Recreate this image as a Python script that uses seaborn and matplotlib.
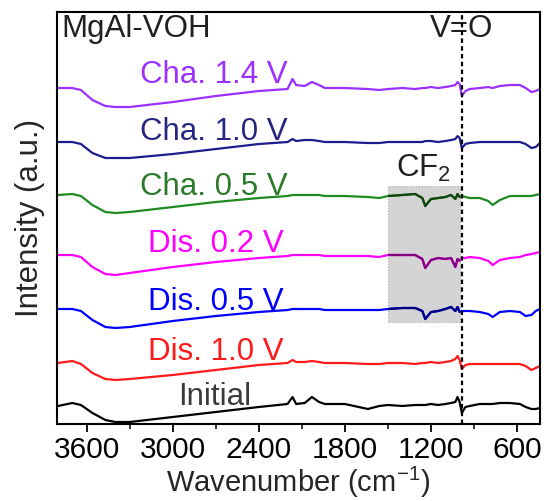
import numpy as np
import pandas as pd
import matplotlib
matplotlib.use("Agg")
import matplotlib.pyplot as plt
import matplotlib.patches as mpatches
from matplotlib.ticker import MultipleLocator
import seaborn as sns

# wavenumber grid (cm-1) shared by all spectra
wavenumber = [3800, 3700, 3640, 3560, 3470, 3400, 3300, 3000, 2700, 2400,
              2200, 2165, 2140, 2080, 2030, 1980, 1940, 1800, 1640, 1560,
              1500, 1400, 1310, 1260, 1240, 1200, 1150, 1100, 1060, 1030,
              1015, 1000, 985, 960, 930, 860, 800, 770, 720, 650,
              580, 540, 500, 470, 440]

# relative intensities (a.u., baseline = 0)
cha_14 = [0, 0, -0.02, -0.12, -0.18, -0.19, -0.19, -0.14, -0.08, -0.03,
          -0.01, 0.09, 0.03, 0.02, 0.06, 0.03, 0.0, 0.0, -0.01, -0.02,
          -0.01, 0.0, -0.01, 0.0, 0.0, 0.01, 0.0, 0.01, 0.02, 0.03,
          0.06, 0.04, -0.08, -0.03, -0.01, 0.0, 0.01, 0.0, 0.02, 0.03,
          0.03, 0.0, -0.04, -0.03, -0.01]
cha_10 = [0, 0, -0.02, -0.11, -0.16, -0.16, -0.16, -0.12, -0.07, -0.02,
          0.0, 0.03, 0.01, 0.02, 0.02, 0.01, 0.0, 0.0, -0.01, -0.01,
          0.0, 0.0, 0.0, 0.0, 0.01, 0.01, 0.0, 0.01, 0.02, 0.03,
          0.06, 0.04, -0.06, -0.02, -0.01, 0.0, 0.0, 0.0, 0.0, 0.0,
          0.0, -0.02, -0.06, -0.05, -0.01]
cha_05 = [0, 0.01, -0.01, -0.10, -0.17, -0.18, -0.17, -0.12, -0.07, -0.03,
          -0.01, 0.0, 0.0, 0.0, 0.0, 0.0, -0.01, -0.01, -0.02, -0.03,
          -0.01, 0.0, 0.01, -0.03, -0.11, -0.04, -0.03, -0.02, 0.0, -0.04,
          0.01, -0.02, -0.01, -0.02, -0.03, -0.03, -0.06, -0.10, -0.05, -0.01,
          -0.01, -0.01, -0.01, 0.0, 0.01]
dis_02 = [0, 0, -0.02, -0.12, -0.19, -0.20, -0.18, -0.12, -0.07, -0.03,
          -0.01, 0.0, 0.0, 0.0, 0.0, 0.0, -0.01, -0.01, -0.01, -0.02,
          0.0, 0.0, 0.0, -0.04, -0.13, -0.05, -0.03, -0.04, -0.03, -0.12,
          -0.04, -0.06, -0.03, -0.03, -0.02, -0.03, -0.06, -0.10, -0.05, -0.03,
          -0.02, 0.0, 0.01, 0.02, 0.03]
dis_05 = [0, 0, -0.02, -0.11, -0.18, -0.19, -0.18, -0.12, -0.07, -0.03,
          -0.01, 0.0, 0.0, 0.0, 0.0, 0.0, -0.01, -0.01, -0.01, -0.01,
          0.0, 0.01, 0.01, -0.02, -0.10, -0.03, -0.02, 0.0, 0.02, -0.02,
          0.02, -0.03, -0.02, -0.02, -0.02, -0.03, -0.05, -0.08, -0.03, -0.02,
          -0.03, -0.07, -0.06, -0.02, 0.0]
dis_10 = [0, 0.02, -0.01, -0.10, -0.16, -0.17, -0.16, -0.12, -0.07, -0.02,
          0.0, 0.03, 0.01, 0.01, 0.02, 0.01, 0.0, 0.0, -0.01, -0.01,
          0.0, 0.0, -0.01, 0.0, 0.0, 0.01, 0.0, 0.01, 0.02, 0.04,
          0.07, 0.03, -0.06, -0.02, -0.01, -0.01, -0.01, -0.01, -0.01, -0.01,
          -0.01, -0.03, -0.07, -0.05, -0.03]
initial = [-0.01, 0.02, 0.0, -0.08, -0.15, -0.17, -0.17, -0.12, -0.07, -0.02,
           0.01, 0.08, 0.01, 0.02, 0.08, 0.03, 0.01, 0.01, -0.04, -0.01,
           0.0, -0.01, 0.0, 0.0, 0.0, 0.01, 0.0, 0.01, 0.02, 0.03,
           0.08, 0.03, -0.08, -0.02, -0.01, 0.01, 0.01, 0.01, 0.02, 0.02,
           0.01, -0.02, -0.04, -0.04, -0.03]

samples = ["Cha. 1.4 V", "Cha. 1.0 V", "Cha. 0.5 V", "Dis. 0.2 V",
           "Dis. 0.5 V", "Dis. 1.0 V", "Initial"]
spectra = [cha_14, cha_10, cha_05, dis_02, dis_05, dis_10, initial]
offsets = [3.36, 2.82, 2.29, 1.69, 1.15, 0.61, 0.19]
colors = ["#9b30ff", "#1c1c8c", "#1f8a1f", "#ff00ff", "#0000ff", "#ff1a1a", "#000000"]
label_colors = ["#9b30ff", "#262680", "#2a7a2a", "#ff00ff", "#0000ff", "#ff1a1a", "#3a3a3a"]
label_x = [3228, 3228, 3228, 3172, 3172, 3172, 2963]
label_y = [3.41, 2.84, 2.29, 1.72, 1.14, 0.64, 0.19]

cf2_band = (1500, 1000)
cf2_y = (1.02, 2.38)
vo_pos = 985

fs = 22.5

sns.set_theme(style="ticks")
plt.rcParams["font.family"] = ["Liberation Sans", "DejaVu Sans"]
plt.rcParams["mathtext.default"] = "regular"

fig = plt.figure(figsize=(5.46, 5.01), dpi=100)
ax = fig.add_axes([0.1044, 0.1537, 0.8846, 0.8223])

# shaded CF2 region
rect = mpatches.Rectangle((cf2_band[1], cf2_y[0]), cf2_band[0] - cf2_band[1],
                          cf2_y[1] - cf2_y[0], facecolor="#d4d4d4",
                          edgecolor="#a8a8a8", linestyle=":", lw=0.8, zorder=1)
ax.add_patch(rect)

for name, spec, off, col in zip(samples, spectra, offsets, colors):
    y = np.array(spec) + off
    sns.lineplot(x=wavenumber, y=y, color=col, lw=1.6, sort=False,
                 estimator=None, ax=ax, zorder=2)
    # darker copy inside the shaded box (gray overlay look)
    dark = tuple(c * 0.5 for c in matplotlib.colors.to_rgb(col))
    ln, = ax.plot(wavenumber, y, color=dark, lw=1.6, zorder=3)
    ln.set_clip_path(rect)

for name, lx, ly, lc in zip(samples, label_x, label_y, label_colors):
    ax.text(lx, ly, name, color=lc, fontsize=fs, ha="left", va="baseline")

ax.axvline(vo_pos, color="black", lw=1.6, ls=(0, (2, 1.5)), zorder=4)
ax.text(vo_pos, 3.87, "V=O", fontsize=fs, ha="center", va="baseline", color="#202020")
ax.text(0.01, 0.94, "MgAl-VOH", transform=ax.transAxes, fontsize=fs,
        ha="left", va="baseline", color="#202020")
ax.text(1255, 2.47, r"CF$_{2}$", fontsize=fs, ha="center", va="baseline", color="#202020")

ax.set_xlim(3807, 440)
ax.set_ylim(0, 4.12)
ax.xaxis.set_major_locator(MultipleLocator(600))
ax.xaxis.set_minor_locator(MultipleLocator(300))
ax.set_xticks([3600, 3000, 2400, 1800, 1200, 600])
ax.set_yticks([])
ax.tick_params(axis="x", which="major", length=6, width=1.3, labelsize=21.5,
               direction="out", pad=3, colors="black")
ax.tick_params(axis="x", which="minor", length=3.5, width=1.3, direction="out")
for s in ax.spines.values():
    s.set_linewidth(1.5)
    s.set_color("black")

ax.set_xlabel(r"Wavenumber (cm$^{-1}$)", fontsize=21, labelpad=0)
ax.set_ylabel("Intensity (a.u.)", fontsize=fs, labelpad=9)

fig.savefig("out.png", dpi=100)
